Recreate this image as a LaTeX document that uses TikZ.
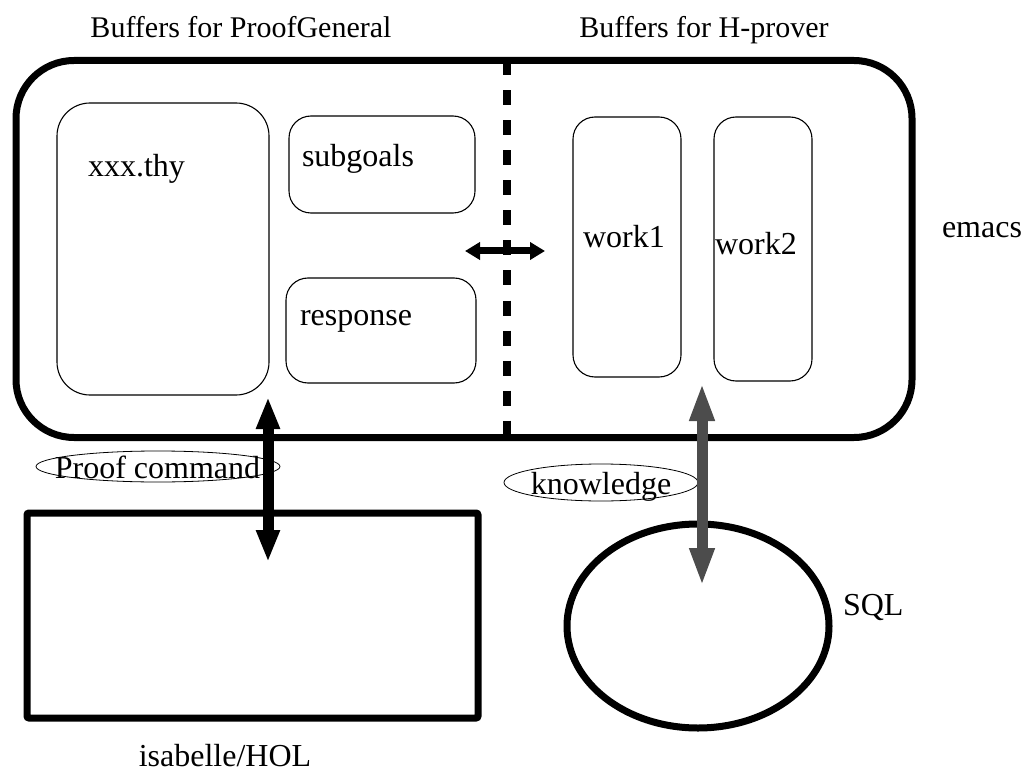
\documentclass[tikz,border=0pt]{standalone}
\usepackage{fontspec}
\setmainfont{Liberation Serif}
\usetikzlibrary{shapes.geometric,arrows.meta}
\begin{document}
\begin{tikzpicture}[x=1pt, y=-1pt,
    every node/.style={inner sep=0pt, outer sep=0pt},
    txt/.style={font=\fontsize{32}{38}\selectfont, anchor=base west},
    head/.style={font=\fontsize{30}{36}\selectfont, anchor=base},
    heavy/.style={draw, line width=7pt},
    buffer/.style={draw, line width=1.1pt, rounded corners=22pt},
    tag/.style={draw, ellipse, line width=0.8pt}]
  \useasboundingbox (0,0) rectangle (1024,775);
  % emacs and its buffers
  \node[heavy, rounded corners=58pt, minimum width=896pt, minimum height=377pt] (emacs) at (464,249) {};
  \node[buffer, rounded corners=33pt, minimum width=212pt, minimum height=292pt] (thy) at (163,249) {};
  \node[buffer, minimum width=186pt, minimum height=97pt] (subgoals) at (382,164.5) {};
  \node[buffer, minimum width=190pt, minimum height=105pt] (response) at (381,330.5) {};
  \node[buffer, minimum width=108pt, minimum height=260pt] (work1) at (627,247) {};
  \node[buffer, minimum width=98pt, minimum height=264pt] (work2) at (763,249) {};
  \node[txt] (thylbl) at (88,177) {xxx.thy};
  \node[txt] (sublbl) at (302,167) {subgoals};
  \node[txt] (reslbl) at (300,325) {response};
  \node[txt] (w1lbl) at (583,248) {work1};
  \node[txt] (w2lbl) at (715,255) {work2};
  \node[head] (pglbl) at (241,38) {Buffers for ProofGeneral};
  \node[head] (hplbl) at (704,38) {Buffers for H-prover};
  \node[txt] (emacslbl) at (942,238) {emacs};
  % dividing line
  \coordinate (div) at (507,249);
  \draw[line width=8pt, dash pattern=on 15pt off 15pt] (div |- emacs.north) -- (div |- emacs.south);
  \coordinate (swapl) at (465,251);
  \coordinate (swapr) at (545,251);
  \draw[line width=7pt, {Triangle[length=15pt,width=17pt]}-{Triangle[length=15pt,width=17pt]}] (swapl) -- (swapr);
  % prover and database
  \node[heavy, rounded corners=2pt, minimum width=451pt, minimum height=205pt] (isabelle) at (252.5,615.5) {};
  \node[txt, anchor=base] (isalbl) at (225,766) {isabelle/HOL};
  \node[heavy, ellipse, minimum width=262pt, minimum height=204pt] (sql) at (698,626) {};
  \node[txt] (sqllbl) at (843,615) {SQL};
  % labelled connectors
  \node[tag, minimum width=244pt, minimum height=31pt] (cmdtag) at (158,466.5) {};
  \node[tag, minimum width=194pt, minimum height=37pt] (knowtag) at (601,482.5) {};
  \node[txt, anchor=base] (cmdlbl) at (157.5,478) {Proof command};
  \node[txt, anchor=base] (knowlbl) at (601,494) {knowledge};
  \coordinate (cmdtop) at (268,397);
  \coordinate (cmdbot) at (268,562);
  \draw[line width=11pt, {Triangle[length=32pt,width=22pt]}-{Triangle[length=32pt,width=22pt]}] (cmdtop) -- (cmdbot);
  \coordinate (knowtop) at (702,383);
  \coordinate (knowbot) at (702,586);
  \draw[black!70, line width=11pt, {Triangle[length=38pt,width=23pt]}-{Triangle[length=38pt,width=23pt]}] (knowtop) -- (knowbot);
\end{tikzpicture}
\end{document}
